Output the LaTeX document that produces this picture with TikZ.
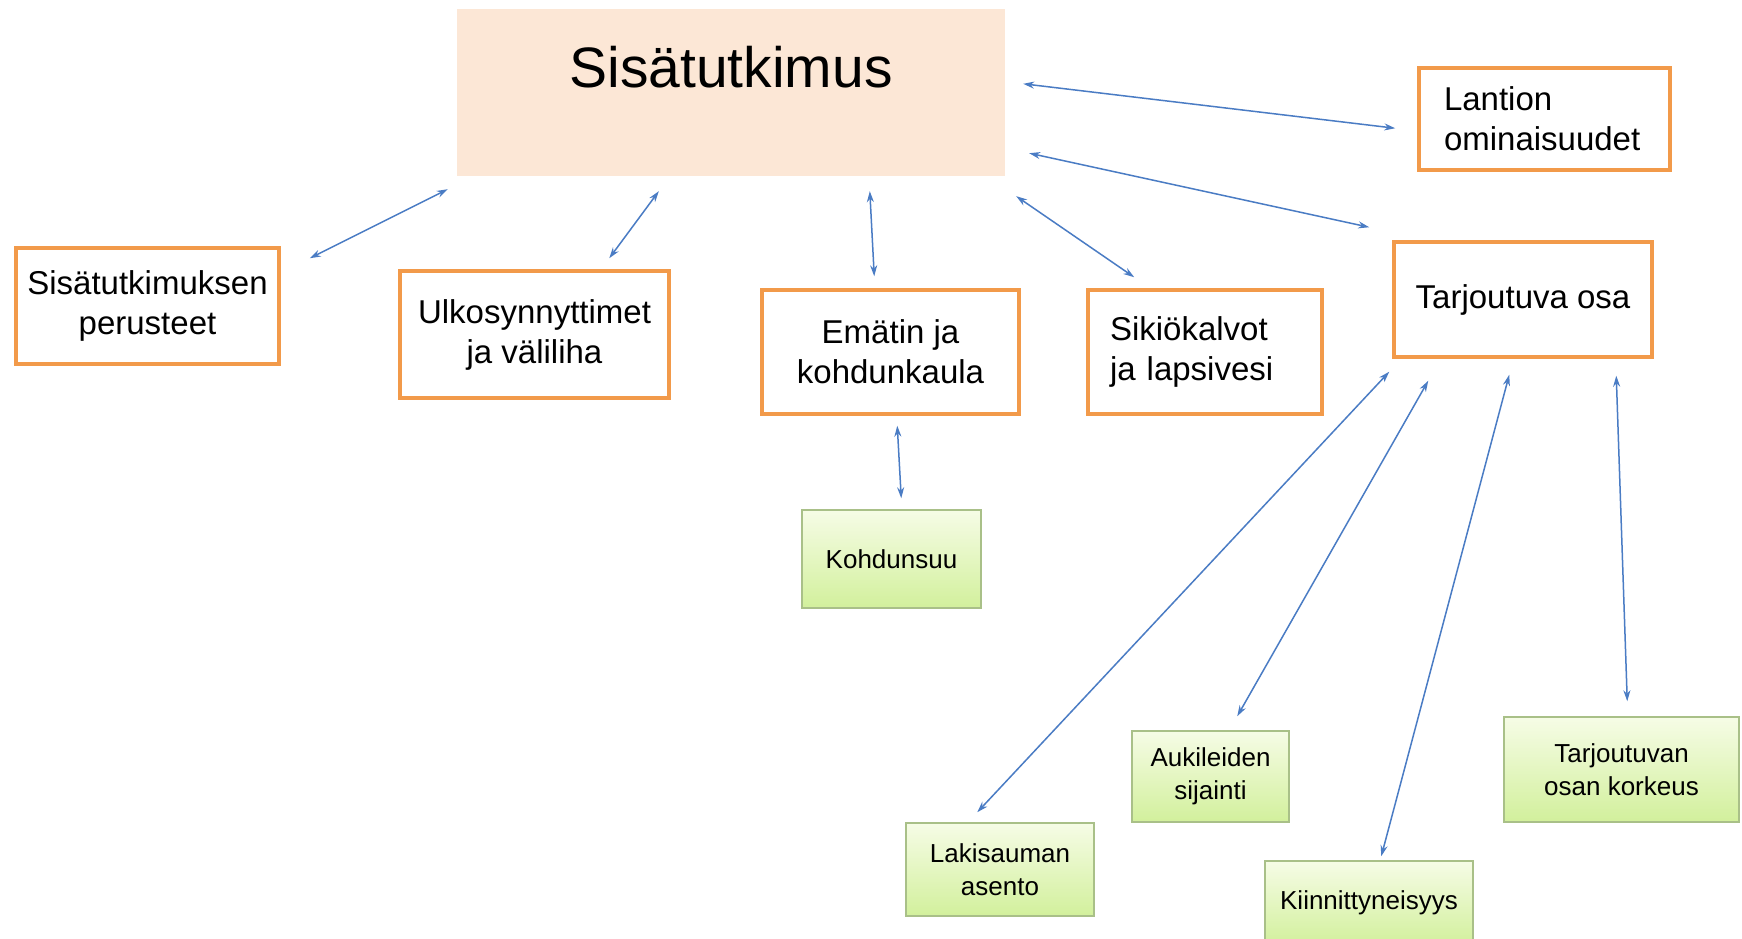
\documentclass[tikz,border=0pt]{standalone}
\usepackage{fontspec}
\setmainfont{Liberation Sans}
\usetikzlibrary{arrows.meta,calc}
\definecolor{peach}{HTML}{FCE7D6}
\definecolor{orng}{HTML}{F29A4A}
\definecolor{gtop}{HTML}{F6FCE6}
\definecolor{gbot}{HTML}{D2F09C}
\definecolor{gedge}{HTML}{A9C088}
\definecolor{arrblue}{HTML}{4A7CC4}
\tikzset{
  obox/.style={draw=orng, line width=3.5pt, fill=white, inner sep=0pt, align=center,
    font=\fontsize{33}{40}\selectfont},
  gbox/.style={draw=gedge, line width=1.5pt, top color=gtop, bottom color=gbot, inner sep=0pt,
    align=center, font=\fontsize{26}{33}\selectfont},
  link/.style={draw=arrblue, line width=1.5pt, {Stealth[length=11pt,width=7pt]}-{Stealth[length=11pt,width=7pt]}}
}
\begin{document}
\begin{tikzpicture}[x=1pt,y=-1pt]
\useasboundingbox[fill=white] (0,0) rectangle (1742,939);
% main
\node[fill=peach, minimum width=548pt, minimum height=167pt, inner sep=0pt] (sis) at (731,92.5) {};
\node[font=\fontsize{57}{60}\selectfont] (sistxt) at (731,67) {Sisätutkimus};
% orange boxes
\node[obox, minimum width=251pt, minimum height=102pt, text width=201pt, align=left] (lan) at (1544.5,119) {Lantion\\ominaisuudet};
\node[obox, minimum width=263pt, minimum height=116pt] (per) at (147.5,306) {Sisätutkimuksen\\perusteet};
\node[obox, minimum width=269pt, minimum height=127pt] (ulk) at (534.5,334.5) {Ulkosynnyttimet\\ja väliliha};
\node[obox, minimum width=257pt, minimum height=124pt] (ema) at (890.5,352) {Emätin ja\\kohdunkaula};
\node[obox, minimum width=234pt, minimum height=124pt, text width=190pt, align=left] (sik) at (1205,352) {Sikiökalvot\\ja lapsivesi};
\node[obox, minimum width=258pt, minimum height=115pt] (tar) at (1523,299.5) {Tarjoutuva osa};
% green boxes
\node[gbox, minimum width=179pt, minimum height=98pt] (koh) at (891.5,559) {Kohdunsuu};
\node[gbox, minimum width=188pt, minimum height=93pt] (lak) at (1000,869.5) {Lakisauman\\asento};
\node[gbox, minimum width=157pt, minimum height=91pt] (auk) at (1210.5,776.5) {Aukileiden\\sijainti};
\node[gbox, minimum width=208pt, minimum height=84pt] (kii) at (1369,903) {Kiinnittyneisyys};
\node[gbox, minimum width=235pt, minimum height=105pt] (kor) at (1621.5,769.5) {Tarjoutuvan\\osan korkeus};
% connectors
\draw[link] ($(sis.north east)+(18,75)$) -- ($(lan.north west)+(-22,62)$);
\draw[link] ($(sis.south east)+(24,-23)$) -- ($(tar.north west)+(-23,-13)$);
\draw[link] ($(sis.south west)+(-9,13)$) -- ($(per.north east)+(29,12)$);
\draw[link] ($(sis.south west)+(202,15)$) -- ($(ulk.north west)+(211,-11)$);
\draw[link] ($(sis.south west)+(413,15)$) -- ($(ema.north west)+(114,-12)$);
\draw[link] ($(sis.south east)+(11,20)$) -- ($(sik.north west)+(48,-11)$);
\draw[link] ($(ema.south west)+(137,10)$) -- ($(koh.north west)+(100,-11)$);
\draw[link] ($(tar.south west)+(-3,13)$) -- ($(lak.north west)+(72,-10)$);
\draw[link] ($(tar.south west)+(36,22)$) -- ($(auk.north west)+(106,-14)$);
\draw[link] ($(tar.south west)+(117,16)$) -- ($(kii.north west)+(117,-4)$);
\draw[link] ($(tar.south west)+(224,17)$) -- ($(kor.north west)+(124,-15)$);
\end{tikzpicture}
\end{document}
